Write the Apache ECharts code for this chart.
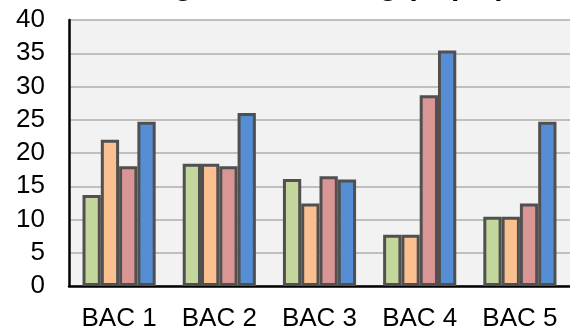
<!DOCTYPE html>
<html>
<head>
<meta charset="utf-8">
<script src="https://cdn.jsdelivr.net/npm/echarts@6/dist/echarts.min.js"></script>
<style>html,body{margin:0;padding:0;background:#fff;}#c{width:570px;height:332px;}</style>
</head>
<body>
<div id="c"></div>
<script>
const categories = ['BAC 1', 'BAC 2', 'BAC 3', 'BAC 4', 'BAC 5'];
const series1 = [13.7, 18.4, 16.1, 7.7, 10.4];
const series2 = [22.0, 18.4, 12.4, 7.7, 10.4];
const series3 = [18.0, 18.0, 16.5, 28.7, 12.4];
const series4 = [24.7, 26.0, 16.0, 35.4, 24.7];
const seriesNames = ['Series 1', 'Series 2', 'Series 3', 'Series 4'];
const colors = ['#c3d69b', '#fac090', '#d99694', '#558ed5'];
const titleText = 'Average Color Rating (in μm)';

const chart = echarts.init(document.getElementById('c'), null, {renderer: 'canvas'});
const data = [series1, series2, series3, series4];
chart.setOption({
  animation: false,
  graphic: [{
    type: 'text',
    x: 92,
    y: -28,
    z: 100,
    style: {text: titleText, font: 'bold 30px "Liberation Sans", Arial', fill: '#000', textVerticalAlign: 'top'}
  }],
  grid: {
    left: 69, right: -8, top: 20, bottom: 45,
    show: true, backgroundColor: '#f2f2f2', borderWidth: 0
  },
  xAxis: {
    type: 'category',
    data: categories,
    axisLine: {lineStyle: {color: '#000', width: 2.5}},
    axisTick: {show: false},
    axisLabel: {color: '#000', fontFamily: 'Liberation Sans, Arial', fontSize: 26, margin: 20}
  },
  yAxis: {
    type: 'value',
    min: 0, max: 40, interval: 5,
    axisLine: {show: true, lineStyle: {color: '#000', width: 2.5}},
    axisTick: {show: false},
    splitLine: {lineStyle: {color: '#bfbfbf', width: 2}},
    axisLabel: {color: '#000', fontFamily: 'Liberation Sans, Arial', fontSize: 26, margin: 24}
  },
  series: data.map((d, i) => ({
    name: seriesNames[i],
    type: 'bar',
    data: d,
    barGap: '0%',
    barCategoryGap: '27%',
    itemStyle: {color: colors[i], borderColor: '#505050', borderWidth: 3}
  }))
});
</script>
</body>
</html>
